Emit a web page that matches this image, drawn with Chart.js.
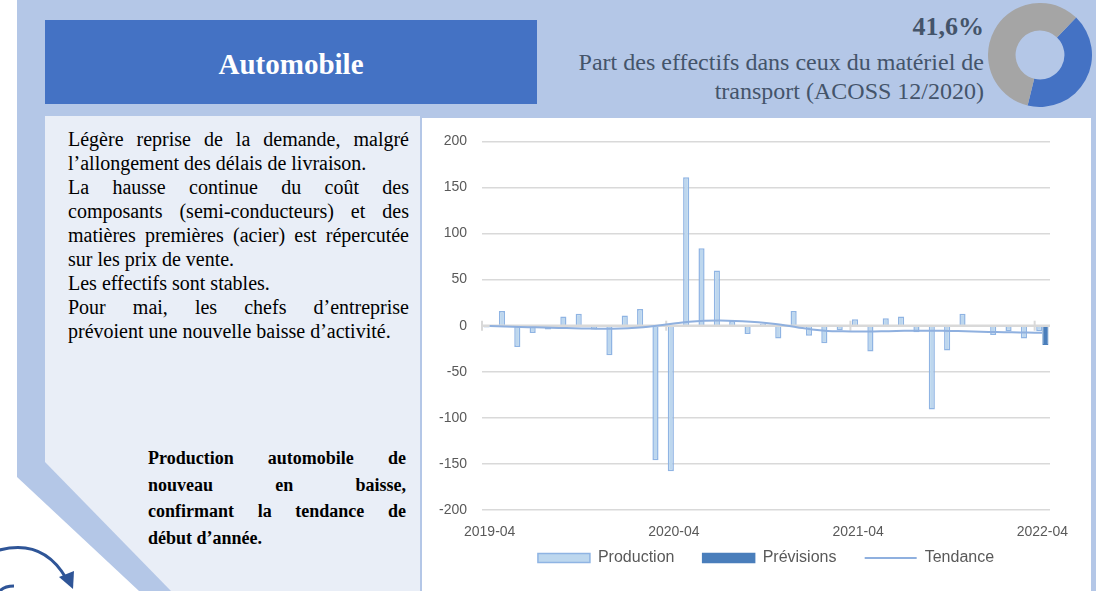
<!DOCTYPE html>
<html lang="fr">
<head>
<meta charset="utf-8">
<script src="https://cdn.jsdelivr.net/npm/chart.js@4.4.1/dist/chart.umd.min.js"></script>
<style>
  body { margin: 0; width: 1096px; height: 591px; position: relative; overflow: hidden; background: #fff; font-family: "Liberation Serif", "Times New Roman", serif; }
  .bg { position: absolute; left: 0; top: 0; width: 1096px; height: 591px; background: #b4c7e7;
        clip-path: polygon(17px 0, 1096px 0, 1096px 591px, 139px 591px, 17px 477px); }
  .panel { position: absolute; left: 0; top: 0; width: 1096px; height: 591px; background: #e9eef7;
        clip-path: polygon(45px 116px, 420px 116px, 420px 591px, 171px 591px, 45px 462px); }
  .title { position: absolute; left: 45px; top: 20px; width: 492px; height: 84px; background: #4472c4; color: #fff;
        font-weight: bold; font-size: 29px; display: flex; align-items: center; justify-content: center; padding-top: 4px; box-sizing: border-box; }
  .pct { position: absolute; right: 112px; top: 12px; font-size: 26px; line-height: 30px; font-weight: bold; color: #44546a; }
  .sub { position: absolute; right: 112px; top: 48px; font-size: 24px; line-height: 29px; color: #44546a; text-align: right; }
  #share { position: absolute; left: 988px; top: 3px; }
  .text { position: absolute; left: 68px; top: 127px; width: 341px; font-size: 20px; line-height: 24px; color: #000; }
  .text div.j, .bold div.j { text-align: justify; text-align-last: justify; }
  .bold { position: absolute; left: 148px; top: 445px; width: 258px; font-size: 18px; line-height: 26.5px; font-weight: bold; color: #000; }
  .box { position: absolute; left: 422px; top: 118px; width: 669px; height: 473px; background: #fff; }
  #chart { position: absolute; left: 0; top: 0; }
  svg { position: absolute; left: 0; top: 530px; }
</style>
</head>
<body>
<div class="bg"></div>
<div class="panel"></div>
<div class="title">Automobile</div>
<div class="pct">41,6%</div>
<div class="sub">Part des effectifs dans ceux du matériel de<br>transport (ACOSS 12/2020)</div>
<canvas id="share" width="104" height="104"></canvas>

<div class="text">
  <div class="j">Légère reprise de la demande, malgré</div>
  <div>l’allongement des délais de livraison.</div>
  <div class="j">La hausse continue du coût des</div>
  <div class="j">composants (semi-conducteurs) et des</div>
  <div class="j">matières premières (acier) est répercutée</div>
  <div>sur les prix de vente.</div>
  <div>Les effectifs sont stables.</div>
  <div class="j">Pour mai, les chefs d’entreprise</div>
  <div>prévoient une nouvelle baisse d’activité.</div>
</div>

<div class="bold">
  <div class="j">Production automobile de</div>
  <div class="j">nouveau en baisse,</div>
  <div class="j">confirmant la tendance de</div>
  <div>début d’année.</div>
</div>

<svg width="100" height="61" viewBox="0 0 100 61">
  <path d="M -4 21 Q 42 7 66 48" fill="none" stroke="#2f5597" stroke-width="3"/>
  <path d="M 59 47 L 73 59 L 74 41 Z" fill="#2f5597"/>
  <path d="M 0 61 Q 4 56 14 56" fill="none" stroke="#2f5597" stroke-width="3"/>
</svg>

<div class="box"><canvas id="chart" width="669" height="473"></canvas></div>

<script>
const months = [
  '2019-04','2019-05','2019-06','2019-07','2019-08','2019-09','2019-10','2019-11','2019-12',
  '2020-01','2020-02','2020-03','2020-04','2020-05','2020-06','2020-07','2020-08','2020-09',
  '2020-10','2020-11','2020-12','2021-01','2021-02','2021-03','2021-04','2021-05','2021-06',
  '2021-07','2021-08','2021-09','2021-10','2021-11','2021-12','2022-01','2022-02','2022-03','2022-04'
];
const shownTicks = ['2019-04', '2020-04', '2021-04', '2022-04'];

const production = [-2, 16, -23, -8, -4, 10, 13, -4, -32, 11, 18, -146, -158, 161, 84, 60, 5, -9, 2,
  -14, 16, -11, -19, -5, 7, -28, 8, 10, -7, -91, -27, 13, -1, -10, -6, -14, -6];
const previsions = [null, null, null, null, null, null, null, null, null, null, null, null, null,
  null, null, null, null, null, null, null, null, null, null, null, null, null, null, null, null,
  null, null, null, null, null, null, null, -21];
const tendance = [-0.3, -0.8, -1.3, -1.8, -2.2, -2.6, -3.0, -3.3, -3.4, -2.8, -1.6, 0.3, 2.4, 4.3,
  5.3, 5.6, 5.2, 4.2, 2.8, 1.0, -1.6, -4.2, -5.7, -6.1, -6.3, -6.2, -5.9, -5.6, -5.5, -5.5, -5.7,
  -6.1, -6.6, -6.9, -7.2, -7.5, -7.7];

const shareLabels = ['Automobile', 'Autres'];
const shareValues = [41.6, 58.4];

Chart.defaults.font.family = '"Liberation Sans", Arial, sans-serif';

// horizontal axis at zero, drawn over the bars but under the trend line
const zeroAxis = {
  id: 'zeroAxis',
  beforeDatasetDraw(chart, args) {
    if (args.index !== 2) return;
    const {ctx, chartArea, scales: {x, y}} = chart;
    const y0 = y.getPixelForValue(0);
    const half = (x.getPixelForValue(1) - x.getPixelForValue(0)) / 2;
    ctx.save();
    ctx.strokeStyle = '#d9d9d9';
    ctx.lineWidth = 2.5;
    ctx.beginPath();
    ctx.moveTo(chartArea.left, y0);
    ctx.lineTo(chartArea.right, y0);
    ctx.stroke();
    ctx.lineWidth = 2;
    months.forEach((m, i) => {
      if (!shownTicks.includes(m)) return;
      const px = x.getPixelForValue(i) - half;
      ctx.beginPath();
      ctx.moveTo(px, y0 - 5);
      ctx.lineTo(px, y0 + 5);
      ctx.stroke();
    });
    ctx.restore();
  }
};

new Chart(document.getElementById('chart'), {
  data: {
    labels: months,
    datasets: [
      {
        type: 'bar', label: 'Production', data: production, order: 1,
        backgroundColor: '#bdd7ee', borderColor: '#8fb4e3', borderWidth: 1.5,
        categoryPercentage: 0.8, barPercentage: 1
      },
      {
        type: 'bar', label: 'Prévisions', data: previsions, order: 1,
        backgroundColor: '#4a7ebb', borderColor: '#4a7ebb', borderWidth: 1,
        categoryPercentage: 0.8, barPercentage: 1
      },
      {
        type: 'line', label: 'Tendance', data: tendance, order: 0,
        borderColor: '#8fb0df', borderWidth: 2, pointRadius: 0, tension: 0.4, fill: false
      }
    ]
  },
  options: {
    responsive: false,
    animation: false,
    devicePixelRatio: 1,
    layout: { padding: { top: 12, right: 41, bottom: 15, left: 0 } },
    scales: {
      x: {
        grid: { display: false, drawTicks: false },
        border: { display: false },
        ticks: {
          autoSkip: false, maxRotation: 0, padding: 14,
          color: '#595959', font: { size: 14 },
          callback: (v, i) => shownTicks.includes(months[i]) ? months[i] : ''
        },
        afterFit: (scale) => { scale.height = 34; }
      },
      y: {
        min: -200, max: 200,
        border: { display: false },
        grid: {
          drawTicks: false, lineWidth: 1.5,
          color: (c) => c.tick && c.tick.value === 0 ? 'rgba(0,0,0,0)' : '#d9d9d9'
        },
        ticks: { stepSize: 50, padding: 15, color: '#595959', font: { size: 14 } },
        afterFit: (scale) => { scale.width = 60; }
      }
    },
    plugins: {
      tooltip: { enabled: false },
      legend: {
        position: 'bottom',
        fullSize: false,
        labels: {
          usePointStyle: true, pointStyleWidth: 52, boxHeight: 9, padding: 6,
          color: '#595959', font: { size: 16 },
          // trailing spaces widen the gap between items without adding vertical padding
          generateLabels: (chart) => chart.data.datasets.map((ds, i, all) => ({
            text: i < all.length - 1 ? ds.label + '     ' : ds.label,
            datasetIndex: i,
            fillStyle: ds.backgroundColor || ds.borderColor,
            strokeStyle: ds.borderColor,
            lineWidth: ds.type === 'line' ? 2 : 1.5,
            pointStyle: ds.type === 'line' ? 'line' : 'rect',
            fontColor: '#595959'
          }))
        }
      }
    }
  },
  plugins: [zeroAxis]
});

new Chart(document.getElementById('share'), {
  type: 'doughnut',
  data: {
    labels: shareLabels,
    datasets: [{ data: shareValues, backgroundColor: ['#4472c4', '#a5a5a5'], borderWidth: 0 }]
  },
  options: {
    responsive: false,
    animation: false,
    devicePixelRatio: 1,
    cutout: '47%',
    rotation: 44,
    plugins: { legend: { display: false }, tooltip: { enabled: false } }
  }
});
</script>
</body>
</html>
